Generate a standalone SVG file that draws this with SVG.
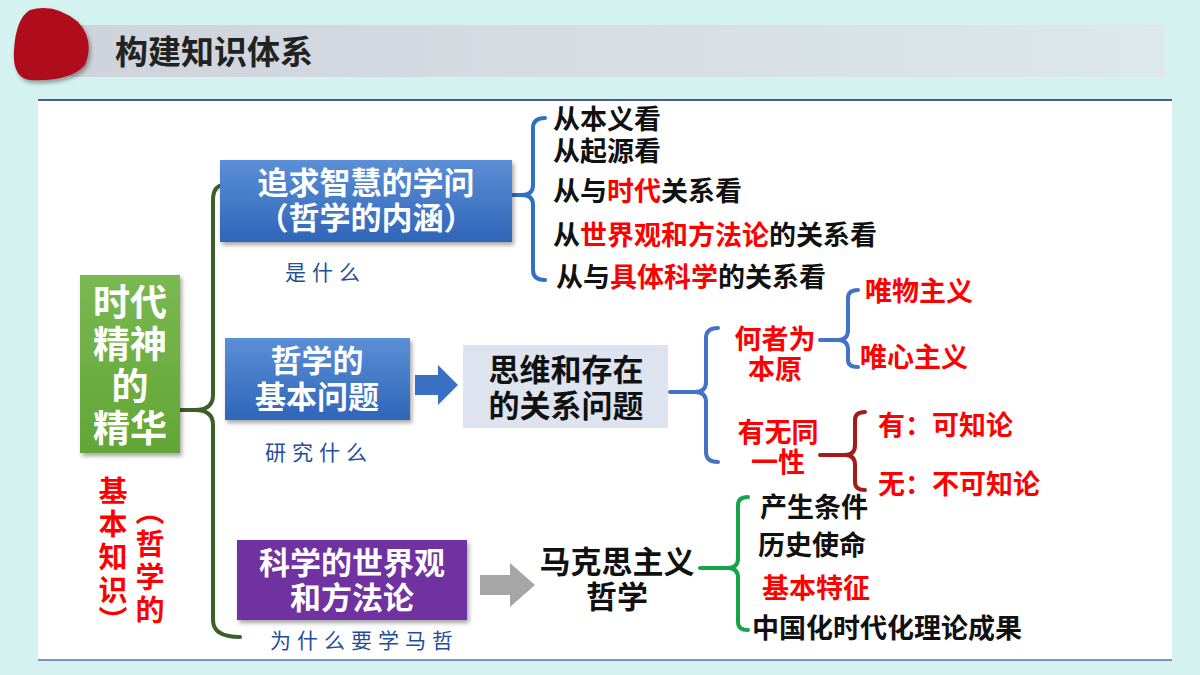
<svg xmlns="http://www.w3.org/2000/svg" width="1200" height="675" viewBox="0 0 1200 675">
<defs>
<linearGradient id="hg" x1="0" x2="1"><stop offset="0" stop-color="#cfd3dc"/><stop offset="1" stop-color="#dde8ea"/></linearGradient>
<linearGradient id="gg" x1="0" y1="0" x2="0" y2="1"><stop offset="0" stop-color="#7ab851"/><stop offset="1" stop-color="#62a636"/></linearGradient>
<linearGradient id="bg" x1="0" y1="0" x2="0" y2="1"><stop offset="0" stop-color="#5b8fd6"/><stop offset="1" stop-color="#2f66b8"/></linearGradient>
<filter id="sh" x="-10%" y="-10%" width="130%" height="130%"><feDropShadow dx="2" dy="3" stdDeviation="2" flood-opacity="0.35"/></filter>
</defs>
<style>
text{font-family:"Noto Sans CJK SC","Liberation Sans",sans-serif;font-weight:bold}
.w{fill:#fff}.k{fill:#111;font-size:27px}.r{fill:#f00;font-size:27px}
.s{font-family:"Noto Sans CJK SC",serif;font-weight:normal;fill:#1f4e9c;font-size:21px;letter-spacing:6px}
.br{fill:none;stroke-width:4;stroke-linecap:round}
.v{fill:#f00;font-size:29px}
</style>
<rect width="1200" height="675" fill="#d4f3f0"/>
<rect x="70" y="25" width="1095" height="52" fill="url(#hg)"/>
<path d="M30 10 Q55 3 78 22 Q95 40 85 65 Q70 82 30 80 Q12 78 14 50 Q16 18 30 10Z" fill="#b00b1e" filter="url(#sh)"/>
<text x="115" y="64" font-size="33" fill="#222">构建知识体系</text>
<rect x="38" y="100" width="1134" height="560" fill="#fff"/>
<line x1="38" y1="100" x2="1172" y2="100" stroke="#1a237e" stroke-width="1.5"/>
<line x1="38" y1="660" x2="1172" y2="660" stroke="#1a237e" stroke-width="1"/>
<g id="connectors">
<path class="br" stroke="#3d5f28" stroke-width="5" d="M180 410 H195 Q213 410 213 395 V200 Q213 185 225 185 M195 410 Q213 410 213 425 V620 Q213 637 240 637"/>
<path class="br" stroke="#2f6fc4" d="M513 195 H522 Q533 195 533 185 V128 Q533 118 545 118 M522 195 Q533 195 533 205 V270 Q533 280 545 280"/>
<path class="br" stroke="#4472c4" d="M670 392 H695 Q706 392 706 382 V338 Q706 328 718 328 M695 392 Q706 392 706 402 V452 Q706 462 718 462"/>
<path class="br" stroke="#4472c4" d="M820 340 H838 Q848 340 848 330 V298 Q848 290 858 290 M838 340 Q848 340 848 350 V360 Q848 367 858 367"/>
<path class="br" stroke="#a31b1b" d="M820 455 H845 Q855 455 855 445 V420 Q855 412 865 412 M845 455 Q855 455 855 465 V482 Q855 490 865 490"/>
<path class="br" stroke="#16a34a" d="M700 568 H728 Q738 568 738 558 V505 Q738 497 748 497 M728 568 Q738 568 738 578 V622 Q738 630 748 630"/>
<path d="M415 375 H438 V365 L458 385 L438 405 V395 H415Z" fill="#3a70c4"/>
<path d="M480 575 H510 V563 L535 585 L510 607 V595 H480Z" fill="#a6a6a6"/>
</g>
<g id="n-main"><rect x="80" y="275" width="100" height="178" fill="url(#gg)" filter="url(#sh)"/>
<g font-size="37" text-anchor="middle"><text x="130" y="316" class="w">时代</text><text x="130" y="358" class="w">精神</text><text x="130" y="400" class="w">的</text><text x="130" y="442" class="w">精华</text></g></g>
<g id="n-red" text-anchor="middle">
<text x="113" y="502" class="v">基</text><text x="113" y="535" class="v">本</text><text x="113" y="568" class="v">知</text><text x="113" y="601" class="v">识</text><text x="113" y="632" class="v">︶</text>
<text x="150" y="522" class="v">︵</text><text x="150" y="555" class="v">哲</text><text x="150" y="588" class="v">学</text><text x="150" y="621" class="v">的</text></g>
<g id="n-b1"><rect x="220" y="160" width="292" height="82" fill="url(#bg)" filter="url(#sh)"/>
<text x="366" y="194" font-size="31" text-anchor="middle" class="w">追求智慧的学问</text><text x="366" y="229" font-size="31" text-anchor="middle" class="w">（哲学的内涵）</text></g>
<text x="285" y="280" class="s">是什么</text>
<g id="n-b2"><rect x="225" y="338" width="185" height="82" fill="url(#bg)" filter="url(#sh)"/>
<text x="317" y="372" font-size="31" text-anchor="middle" class="w">哲学的</text><text x="317" y="408" font-size="31" text-anchor="middle" class="w">基本问题</text></g>
<text x="265" y="460" class="s">研究什么</text>
<g id="n-b3"><rect x="463" y="345" width="205" height="83" fill="#dde3ef"/>
<text x="566" y="381" font-size="31" text-anchor="middle" fill="#111">思维和存在</text><text x="566" y="417" font-size="31" text-anchor="middle" fill="#111">的关系问题</text></g>
<g id="n-b4"><rect x="237" y="540" width="230" height="80" fill="#7030a0" filter="url(#sh)"/>
<text x="352" y="574" font-size="31" text-anchor="middle" class="w">科学的世界观</text><text x="352" y="609" font-size="31" text-anchor="middle" class="w">和方法论</text></g>
<text x="270" y="648" class="s" letter-spacing="4">为什么要学马哲</text>
<g id="n-mk"><text x="617" y="573" font-size="31" text-anchor="middle" fill="#111">马克思主义</text><text x="617" y="608" font-size="31" text-anchor="middle" fill="#111">哲学</text></g>
<g id="n-list">
<text x="553" y="129" class="k">从本义看</text>
<text x="553" y="161" class="k">从起源看</text>
<text x="553" y="201" class="k">从与<tspan fill="#f00">时代</tspan>关系看</text>
<text x="553" y="245" class="k">从<tspan fill="#f00">世界观和方法论</tspan>的关系看</text>
<text x="556" y="287" class="k">从与<tspan fill="#f00">具体科学</tspan>的关系看</text></g>
<g id="n-q1"><text x="775" y="349" class="r" text-anchor="middle">何者为</text><text x="775" y="379" class="r" text-anchor="middle">本原</text></g>
<text x="865" y="301" class="r">唯物主义</text>
<text x="860" y="367" class="r">唯心主义</text>
<g id="n-q2"><text x="778" y="442" class="r" text-anchor="middle">有无同</text><text x="778" y="472" class="r" text-anchor="middle">一性</text></g>
<text x="878" y="435" class="r">有：可知论</text>
<text x="878" y="494" class="r">无：不可知论</text>
<text x="760" y="517" class="k">产生条件</text>
<text x="758" y="555" class="k">历史使命</text>
<text x="762" y="598" class="r">基本特征</text>
<text x="752" y="638" class="k">中国化时代化理论成果</text>
</svg>
